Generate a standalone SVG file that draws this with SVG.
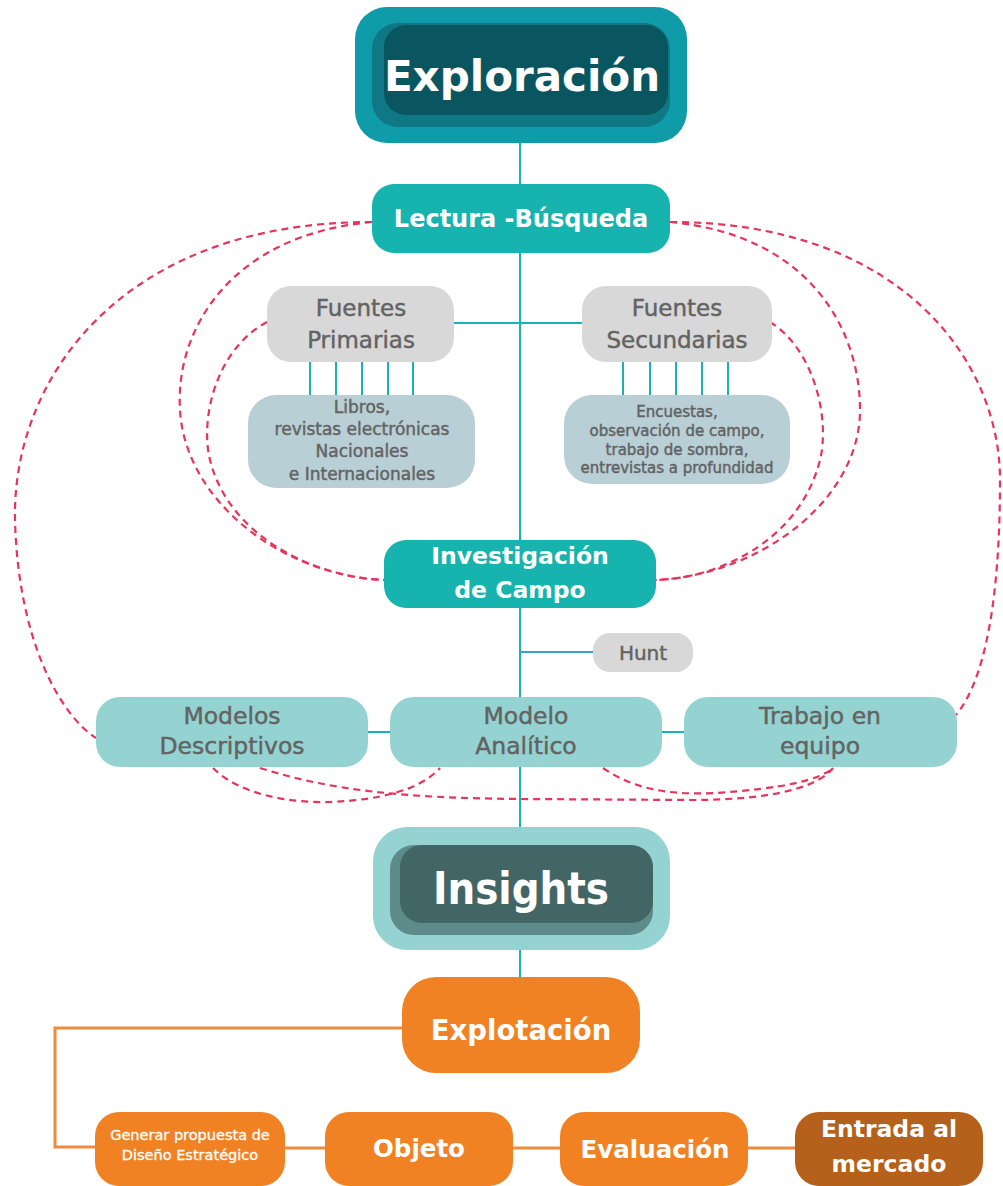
<svg xmlns="http://www.w3.org/2000/svg" width="1003" height="1186" viewBox="0 0 1003 1186">
<style>
  .w { font-family: "DejaVu Sans", "Liberation Sans", sans-serif; font-weight: bold; fill: #ffffff; text-anchor: middle; }
  .wn { font-family: "DejaVu Sans", "Liberation Sans", sans-serif; fill: #ffffff; text-anchor: middle; stroke: #ffffff; stroke-width: 0.3; }
  .g { font-family: "DejaVu Sans", "Liberation Sans", sans-serif; fill: #636363; stroke: #636363; stroke-width: 0.45; text-anchor: middle; }
  .teal { fill: #17b3ae; }
  .lt { fill: #94d3d1; }
  .gray { fill: #d9d8d8; }
  .bg { fill: #b9cfd6; }
  .or { fill: #f18224; }
  .dash { fill: none; stroke: #e8335a; stroke-width: 2.2; stroke-dasharray: 7 5; }
  .vl { stroke: #1ab3b3; stroke-width: 2; fill: none; }
  .ol { stroke: #f08b3c; stroke-width: 3; fill: none; }
</style>
<rect width="1003" height="1186" fill="#ffffff"/>
<g id="connectors">
  <line class="vl" x1="520" y1="140" x2="520" y2="830"/>
  <line class="vl" x1="520" y1="945" x2="520" y2="980"/>
  <line class="vl" x1="453" y1="323" x2="584" y2="323"/>
  <g class="vl">
    <line x1="310" y1="360" x2="310" y2="397"/>
    <line x1="336" y1="360" x2="336" y2="397"/>
    <line x1="362" y1="360" x2="362" y2="397"/>
    <line x1="388" y1="360" x2="388" y2="397"/>
    <line x1="413" y1="360" x2="413" y2="397"/>
    <line x1="623" y1="360" x2="623" y2="397"/>
    <line x1="650" y1="360" x2="650" y2="397"/>
    <line x1="676" y1="360" x2="676" y2="397"/>
    <line x1="702" y1="360" x2="702" y2="397"/>
    <line x1="728" y1="360" x2="728" y2="397"/>
  </g>
  <line x1="520" y1="652" x2="595" y2="652" stroke="#3d9fd2" stroke-width="2"/>
  <line class="vl" x1="366" y1="732" x2="392" y2="732" stroke-width="3"/>
  <line class="vl" x1="660" y1="732" x2="686" y2="732" stroke-width="3"/>
  <path class="ol" d="M404,1028 H55 V1147 H97"/>
  <line class="ol" x1="283" y1="1148" x2="327" y2="1148"/>
  <line class="ol" x1="511" y1="1148" x2="562" y2="1148"/>
  <line class="ol" x1="746" y1="1148" x2="797" y2="1148"/>
  <path class="dash" d="M372,222 C120,222 12,380 15,520 C18,640 60,715 96,738"/>
  <path class="dash" d="M372,222 C230,235 175,330 180,410 C185,500 280,575 384,580"/>
  <path class="dash" d="M267,322 C215,350 200,420 210,460 C230,540 320,578 384,580"/>
  <path class="dash" d="M670,222 C900,222 1000,360 1000,480 C1000,600 985,680 956,715"/>
  <path class="dash" d="M670,222 C810,235 860,330 860,410 C860,500 760,575 656,580"/>
  <path class="dash" d="M770,322 C815,350 830,420 820,460 C800,540 720,578 656,580"/>
  <path class="dash" d="M213,768 C240,795 290,803 330,802 C380,800 420,790 440,768"/>
  <path class="dash" d="M260,768 C330,790 400,798 520,799 L690,800 C780,800 820,785 833,768"/>
  <path class="dash" d="M603,768 C635,790 670,795 715,793 C780,789 820,780 833,768"/>
</g>
<g id="exploracion">
  <rect x="355" y="7" width="332" height="136" rx="32" fill="#0f9ba8"/>
  <rect x="372" y="23" width="298" height="104" rx="26" fill="#107784"/>
  <rect x="384" y="25" width="284" height="90" rx="22" fill="#0a5660"/>
  <text class="w" x="522" y="91" font-size="42">Exploración</text>
</g>
<g id="lectura">
  <rect class="teal" x="372" y="184" width="298" height="69" rx="22"/>
  <text class="w" x="521" y="227" font-size="24">Lectura -Búsqueda</text>
</g>
<g id="fuentes-primarias">
  <rect class="gray" x="267" y="286" width="187" height="76" rx="24"/>
  <text class="g" x="361" y="316" font-size="23">Fuentes</text>
  <text class="g" x="361" y="348" font-size="23">Primarias</text>
</g>
<g id="fuentes-secundarias">
  <rect class="gray" x="582" y="286" width="190" height="76" rx="24"/>
  <text class="g" x="677" y="316" font-size="23">Fuentes</text>
  <text class="g" x="677" y="348" font-size="23">Secundarias</text>
</g>
<g id="libros">
  <rect class="bg" x="248" y="395" width="227" height="93" rx="28"/>
  <text class="g" x="362" y="413" font-size="17" stroke-width="0.3">Libros,</text>
  <text class="g" x="362" y="435" font-size="17" stroke-width="0.3">revistas electrónicas</text>
  <text class="g" x="362" y="457" font-size="17" stroke-width="0.3">Nacionales</text>
  <text class="g" x="362" y="480" font-size="17" stroke-width="0.3">e Internacionales</text>
</g>
<g id="encuestas">
  <rect class="bg" x="564" y="395" width="226" height="89" rx="28"/>
  <text class="g" x="677" y="417" font-size="15" stroke-width="0.25">Encuestas,</text>
  <text class="g" x="677" y="436" font-size="15" stroke-width="0.25">observación de campo,</text>
  <text class="g" x="677" y="455" font-size="15" stroke-width="0.25">trabajo de sombra,</text>
  <text class="g" x="677" y="473" font-size="15" stroke-width="0.25">entrevistas a profundidad</text>
</g>
<g id="investigacion">
  <rect class="teal" x="384" y="540" width="272" height="68" rx="22"/>
  <text class="w" x="520" y="564" font-size="23.5">Investigación</text>
  <text class="w" x="520" y="598" font-size="23.5">de Campo</text>
</g>
<g id="hunt">
  <rect class="gray" x="593" y="633" width="100" height="39" rx="17"/>
  <text class="g" x="643" y="660" font-size="20">Hunt</text>
</g>
<g id="modelos-descriptivos">
  <rect class="lt" x="96" y="697" width="272" height="70" rx="24"/>
  <text class="g" x="232" y="724" font-size="23.5">Modelos</text>
  <text class="g" x="232" y="754" font-size="23.5">Descriptivos</text>
</g>
<g id="modelo-analitico">
  <rect class="lt" x="390" y="697" width="272" height="70" rx="24"/>
  <text class="g" x="526" y="724" font-size="23.5">Modelo</text>
  <text class="g" x="526" y="754" font-size="23.5">Analítico</text>
</g>
<g id="trabajo-equipo">
  <rect class="lt" x="684" y="697" width="273" height="70" rx="24"/>
  <text class="g" x="820" y="724" font-size="23.5">Trabajo en</text>
  <text class="g" x="820" y="754" font-size="23.5">equipo</text>
</g>
<g id="insights">
  <rect x="373" y="827" width="297" height="123" rx="34" fill="#94d3d1"/>
  <rect x="390" y="845" width="263" height="90" rx="24" fill="#5c8b8a"/>
  <rect x="400" y="845" width="253" height="78" rx="22" fill="#426665"/>
  <text class="w" x="521" y="904" font-size="44" textLength="176" lengthAdjust="spacingAndGlyphs">Insights</text>
</g>
<g id="explotacion">
  <rect class="or" x="402" y="977" width="238" height="96" rx="34"/>
  <text class="w" x="521" y="1040" font-size="27.5">Explotación</text>
</g>
<g id="generar">
  <rect class="or" x="95" y="1112" width="190" height="74" rx="24"/>
  <text class="wn" x="190" y="1140" font-size="14.5">Generar propuesta de</text>
  <text class="wn" x="190" y="1160" font-size="14.5">Diseño Estratégico</text>
</g>
<g id="objeto">
  <rect class="or" x="325" y="1112" width="188" height="74" rx="24"/>
  <text class="w" x="419" y="1157" font-size="24.5">Objeto</text>
</g>
<g id="evaluacion">
  <rect class="or" x="560" y="1112" width="188" height="74" rx="24"/>
  <text class="w" x="655" y="1158" font-size="24.5">Evaluación</text>
</g>
<g id="entrada">
  <rect x="795" y="1112" width="188" height="74" rx="24" fill="#b5601b"/>
  <text class="w" x="889" y="1137" font-size="23.5">Entrada al</text>
  <text class="w" x="889" y="1172" font-size="23.5">mercado</text>
</g>
</svg>
